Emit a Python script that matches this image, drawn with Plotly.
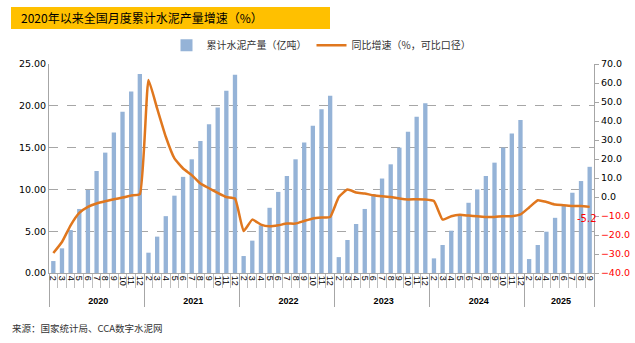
import plotly.graph_objects as go

years = ["2020", "2021", "2022", "2023", "2024", "2025"]
months_full = [str(m) for m in range(2, 13)]
months_2025 = [str(m) for m in range(2, 10)]

output_2020 = [1.43, 2.95, 5.14, 7.66, 9.93, 12.2, 14.4, 16.8, 19.3, 21.7, 23.8]
output_2021 = [2.43, 4.35, 6.80, 9.25, 11.5, 13.6, 15.8, 17.8, 19.8, 21.8, 23.7]
output_2022 = [2.03, 3.87, 5.70, 7.80, 9.70, 11.6, 13.6, 15.6, 17.6, 19.6, 21.2]
output_2023 = [1.90, 3.95, 5.86, 7.66, 9.45, 11.3, 13.0, 15.0, 16.9, 18.7, 20.3]
output_2024 = [1.75, 3.35, 5.06, 6.94, 8.40, 10.0, 11.6, 13.2, 15.0, 16.7, 18.3]
output_2025 = [1.67, 3.35, 4.94, 6.60, 8.10, 9.60, 11.0, 12.7]

growth_2020 = [-29.5, -23.7, -14.9, -8.4, -5.2, -3.4, -2.2, -1.2, -0.3, 0.8, 1.5]
growth_2021 = [61.6, 46.6, 31.7, 20.3, 15.0, 11.5, 7.1, 4.6, 2.2, 0.0, -0.8]
growth_2022 = [-17.9, -11.9, -14.5, -15.4, -14.9, -14.0, -14.0, -12.6, -11.3, -10.8, -10.5]
growth_2023 = [0.0, 3.9, 2.4, 1.8, 0.9, 0.4, 0.0, -0.8, -1.3, -1.2, -1.3]
growth_2024 = [-2.1, -11.9, -10.1, -9.4, -9.8, -10.1, -10.5, -10.5, -10.1, -10.1, -9.2]
growth_2025 = [-5.5, -1.7, -2.6, -4.0, -4.3, -4.7, -4.7, -5.2]

left_ticks = [0, 5, 10, 15, 20, 25]
right_ticks_pos = [0, 10, 20, 30, 40, 50, 60, 70]
right_ticks_neg = [-40, -30, -20, -10]

title_text = "2020年以来全国月度累计水泥产量增速（%）"
source_text = "来源：国家统计局、CCA数字水泥网"
bar_name = "累计水泥产量（亿吨）"
line_name = "同比增速（%，可比口径）"

outputs = [output_2020, output_2021, output_2022, output_2023, output_2024, output_2025]
growths = [growth_2020, growth_2021, growth_2022, growth_2023, growth_2024, growth_2025]
month_lists = [months_full] * 5 + [months_2025]

x_year, x_month, y_bar, y_line = [], [], [], []
for yr, ms, ov, gv in zip(years, month_lists, outputs, growths):
    for m, o, g in zip(ms, ov, gv):
        x_year.append("<b>" + yr + "</b>")
        x_month.append(m)
        y_bar.append(o)
        y_line.append(g)

FONT = "DejaVu Sans"
CJK = "Noto Sans CJK SC"

fig = go.Figure()
fig.add_trace(go.Bar(x=[x_year, x_month], y=y_bar, name=bar_name,
                     marker=dict(color="#95B3D7", line=dict(width=0)), yaxis="y"))
fig.add_trace(go.Scatter(x=[x_year, x_month], y=y_line, name=line_name, mode="lines",
                         line=dict(color="#E0771E", width=2.5, shape="spline", smoothing=0.4),
                         yaxis="y2"))
# invisible trace to drive the red negative tick axis
fig.add_trace(go.Scatter(x=[x_year[:1], x_month[:1]], y=[None], yaxis="y3", mode="lines",
                         showlegend=False, hoverinfo="skip"))

fig.add_annotation(x=[x_year[-1], x_month[-1]], y=y_line[-1], xref="x", yref="y2",
                   text="%.1f" % y_line[-1], showarrow=False, yshift=-12, xshift=-3,
                   font=dict(family=FONT, size=10, color="#FF0000"))

n = len(y_bar)
fig.update_layout(
    width=635, height=343,
    margin=dict(l=49, r=41, t=64, b=70, autoexpand=False),
    paper_bgcolor="white", plot_bgcolor="white",
    bargap=0.5,
    showlegend=True,
    legend=dict(orientation="h", x=0.5, xanchor="center", y=1.02, yanchor="bottom",
                font=dict(family=CJK, size=10, color="#333333"),
                itemwidth=30, tracegroupgap=0, bgcolor="rgba(0,0,0,0)"),
    xaxis=dict(type="multicategory", showline=True, linecolor="#A6A6A6", linewidth=1,
               range=[-0.5, n - 0.5], autorange=False, automargin=False,
               ticks="outside", tickson="boundaries", ticklen=14, tickcolor="#BFBFBF",
               tickmode="linear", tick0=0, dtick=1,
               tickangle=90, tickfont=dict(family="Liberation Sans", size=9, color="black"),
               dividercolor="#A6A6A6", dividerwidth=1, showgrid=False),
    yaxis=dict(range=[0, 25], tickvals=left_ticks, tickformat=".2f", automargin=False,
               showgrid=True, gridcolor="#A6A6A6", griddash="dash", gridwidth=1,
               showline=True, linecolor="#A6A6A6", zeroline=False,
               tickfont=dict(family=FONT, size=9.5, color="black")),
    yaxis2=dict(range=[-40, 70], tickvals=right_ticks_pos, tickformat=".1f",
                overlaying="y", side="right", showgrid=False, zeroline=False, automargin=False,
                showline=True, linecolor="#A6A6A6", ticks="outside", ticklen=4,
                tickcolor="#A6A6A6",
                tickfont=dict(family=FONT, size=9.5, color="black")),
    yaxis3=dict(range=[-40, 70], tickvals=right_ticks_neg, tickformat=".1f",
                overlaying="y", side="right", anchor="x", showgrid=False, zeroline=False,
                automargin=False,
                showline=False, ticks="outside", ticklen=4, tickcolor="#A6A6A6",
                tickfont=dict(family=FONT, size=9.5, color="#FF0000")),
)

# title bar
fig.add_shape(type="rect", xref="paper", yref="paper",
              x0=(11 - 49) / 545, x1=(330 - 49) / 545,
              y0=(273 - 29) / 209, y1=(273 - 7) / 209,
              fillcolor="#FFC000", line=dict(width=0), layer="below")
fig.add_annotation(xref="paper", yref="paper", x=(19 - 49) / 545, y=(273 - 18) / 209,
                   xanchor="left", yanchor="middle", showarrow=False, text=title_text,
                   font=dict(family=CJK, size=12, color="black"))
fig.add_annotation(xref="paper", yref="paper", x=(10 - 49) / 545, y=(273 - 328) / 209,
                   xanchor="left", yanchor="middle", showarrow=False, text=source_text,
                   font=dict(family=CJK, size=9.5, color="#333333"))

fig.write_html("out.html")
